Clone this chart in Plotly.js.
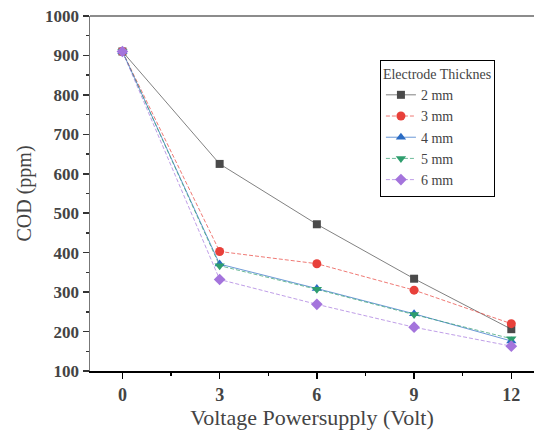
<!DOCTYPE html>
<html><head><meta charset="utf-8">
<script src="https://cdn.plot.ly/plotly-3.0.1.min.js"></script>
<style>html,body{margin:0;padding:0;background:#fff}#chart{width:534px;height:435px}</style>
</head><body><div id="chart"></div>
<script>
const voltage = [0, 3, 6, 9, 12];
const seriesNames = ["2 mm", "3 mm", "4 mm", "5 mm", "6 mm"];
const cod2 = [910, 625, 472, 334, 206];
const cod3 = [910, 403, 372, 305, 220];
const cod4 = [910, 371, 309, 245, 176];
const cod5 = [910, 367, 307, 243, 182];
const cod6 = [910, 332, 269, 211, 163];
const xTicks = [0, 3, 6, 9, 12];
const yTicks = [100, 200, 300, 400, 500, 600, 700, 800, 900, 1000];

const styles = [
  {color: "#4a4a4a", symbol: "square", dash: "solid", size: 8},
  {color: "#e8403a", symbol: "circle", dash: "4px,2px", size: 9},
  {color: "#2b6cc4", symbol: "triangle-up", dash: "solid", size: 9},
  {color: "#2f9e6e", symbol: "triangle-down", dash: "4px,2px", size: 9},
  {color: "#a474dc", symbol: "diamond", dash: "4px,2px", size: 9}
];
const data = [cod2, cod3, cod4, cod5, cod6].map((ys, i) => ({
  x: voltage, y: ys, name: seriesNames[i], type: "scatter", mode: "lines+markers",
  line: {color: styles[i].color, width: 0.7, dash: styles[i].dash},
  marker: {color: styles[i].color, symbol: styles[i].symbol, size: styles[i].size}
}));

const layout = {
  width: 534, height: 435,
  margin: {l: 90, r: 0, t: 16, b: 64},
  showlegend: true,
  legend: {
    x: 0.653, y: 0.876, xanchor: "left", yanchor: "top",
    bgcolor: "#fff", bordercolor: "#000", borderwidth: 1,
    font: {family: "serif", size: 14},
    title: {text: "Electrode Thicknes", font: {family: "serif", size: 14}},
    tracegroupgap: 0, itemwidth: 30
  },
  xaxis: {
    range: [-1, 12.7], tickvals: xTicks, ticktext: xTicks.map(v => "<b>" + v + "</b>"),
    showgrid: false, zeroline: false, showline: true, linecolor: "#000", linewidth: 2,
    ticks: "outside", ticklen: 6, tickwidth: 1.5, tickcolor: "#000",
    minor: {dtick: 1.5, tick0: 0, ticks: "outside", ticklen: 3, tickcolor: "#000", showgrid: false},
    tickfont: {family: "serif", size: 18},
    title: {text: "Voltage Powersupply (Volt)", font: {family: "serif", size: 22}, standoff: 4}
  },
  yaxis: {
    range: [100, 1000], tickvals: yTicks, ticktext: yTicks.map(v => "<b>" + v + "</b>"),
    showgrid: false, zeroline: false, showline: true, linecolor: "#777", linewidth: 1.5,
    ticks: "outside", ticklen: 6, tickwidth: 1.5, tickcolor: "#333",
    minor: {dtick: 50, tick0: 100, ticks: "outside", ticklen: 3, tickcolor: "#333", showgrid: false},
    tickfont: {family: "serif", size: 17},
    title: {text: "COD (ppm)", font: {family: "serif", size: 20}, standoff: 8}
  },
  shapes: [{type: "line", xref: "paper", yref: "paper", x0: 0, x1: 1, y0: 1, y1: 1,
    line: {color: "#666", width: 1.5}}]
};
Plotly.newPlot("chart", data, layout, {staticPlot: true, displayModeBar: false});
</script></body></html>
